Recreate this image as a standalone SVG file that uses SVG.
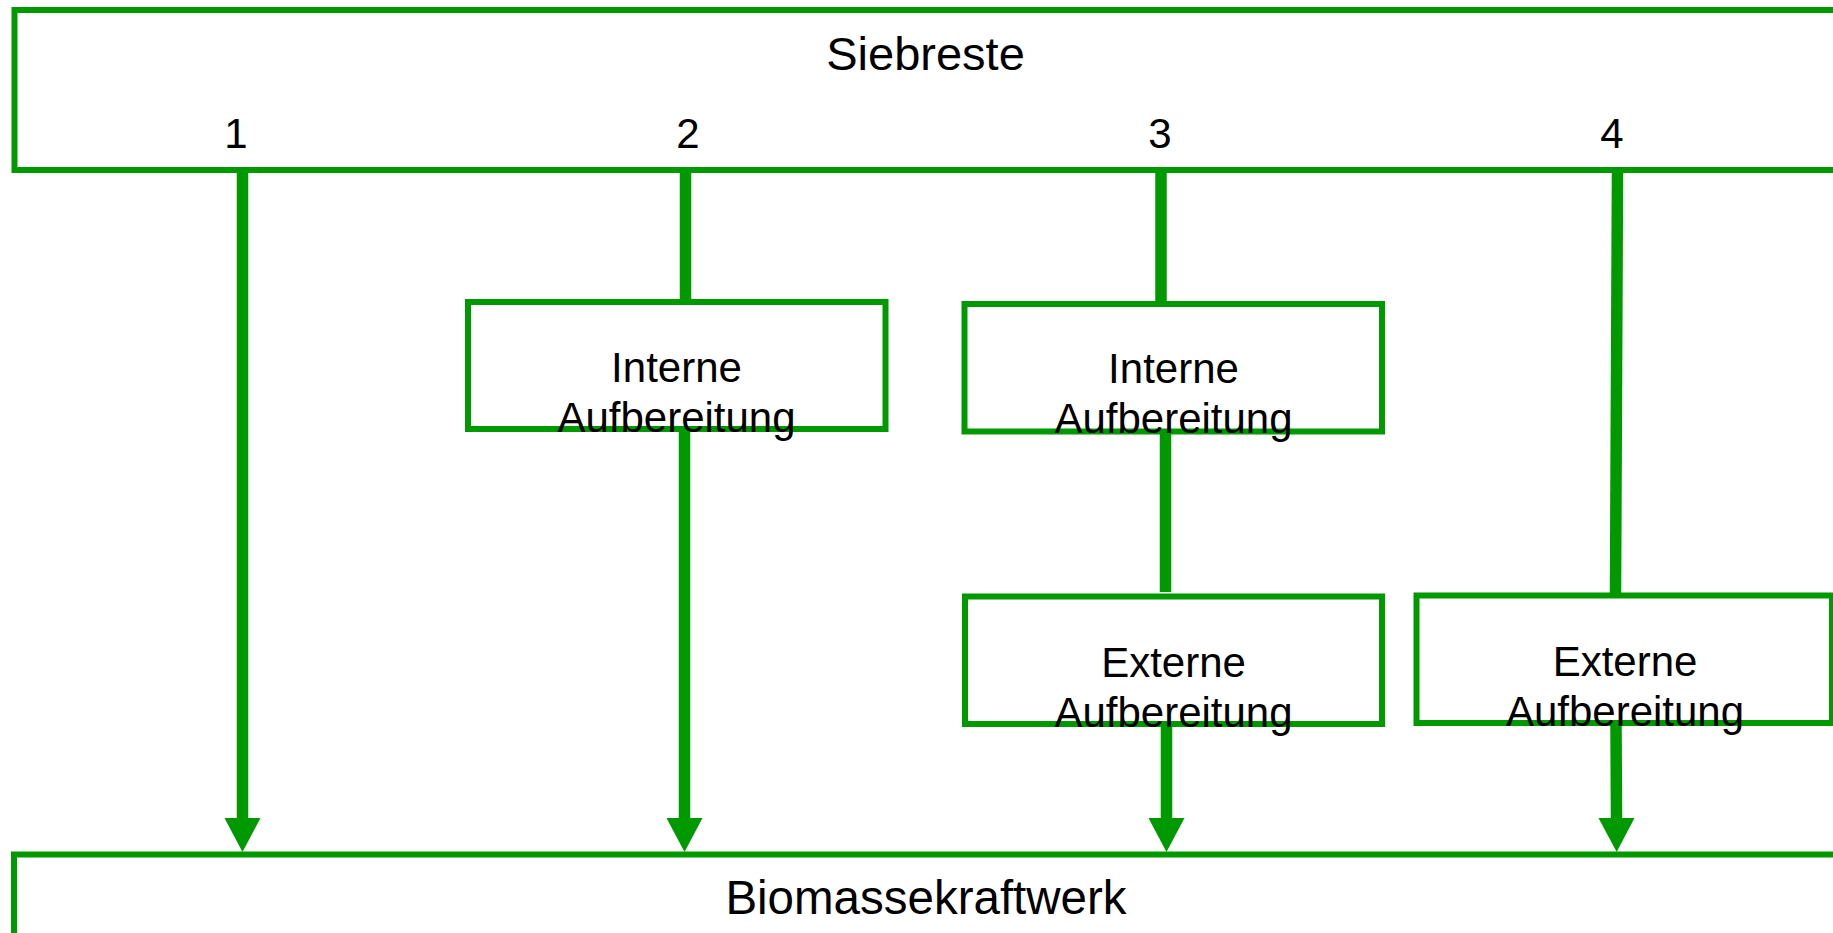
<svg xmlns="http://www.w3.org/2000/svg" width="1833" height="933" viewBox="0 0 1833 933">
<style>
.box{fill:none;stroke:#009900;stroke-width:6}
.conn{fill:none;stroke:#009900;stroke-width:11.5}
text{font-family:"Liberation Sans",Arial,sans-serif;fill:#000;text-anchor:middle}
.t{font-size:42px}
</style>
<defs>
<marker id="ah" markerUnits="userSpaceOnUse" markerWidth="36" markerHeight="36" viewBox="0 0 34 36" refX="0" refY="18" orient="auto">
<path d="M0,0 L34,18 L0,36 z" fill="#009900"/>
</marker>
</defs>
<g id="connectors">
<line class="conn" x1="242.5" y1="170" x2="242.5" y2="818" marker-end="url(#ah)"/>
<line class="conn" x1="685.5" y1="170" x2="685.5" y2="301"/>
<line class="conn" x1="684.5" y1="431" x2="684.5" y2="818" marker-end="url(#ah)"/>
<line class="conn" x1="1161" y1="170" x2="1161" y2="303"/>
<line class="conn" x1="1165.5" y1="433" x2="1165.5" y2="592"/>
<line class="conn" x1="1166.5" y1="727" x2="1166.5" y2="818" marker-end="url(#ah)"/>
<line class="conn" x1="1617.5" y1="170" x2="1615.5" y2="594"/>
<line class="conn" x1="1616" y1="724" x2="1616.5" y2="818" marker-end="url(#ah)"/>
</g>
<g id="siebreste">
<rect class="box" x="14.5" y="10" width="1840" height="160" fill="#fff"/>
<text x="925.5" y="69.5" style="font-size:47px">Siebreste</text>
<text class="t" x="236" y="148">1</text>
<text class="t" x="688" y="148">2</text>
<text class="t" x="1160" y="148">3</text>
<text class="t" x="1612" y="148">4</text>
</g>
<g id="intern2">
<rect class="box" x="468" y="302" width="417.5" height="127"/>
<text class="t" x="676.5" y="381.5">Interne</text>
<text class="t" x="676.5" y="431.5">Aufbereitung</text>
</g>
<g id="intern3">
<rect class="box" x="964.5" y="304" width="417.5" height="127.5"/>
<text class="t" x="1173.5" y="383">Interne</text>
<text class="t" x="1173.5" y="433">Aufbereitung</text>
</g>
<g id="extern3">
<rect class="box" x="965" y="596.5" width="417" height="127.5"/>
<text class="t" x="1173.5" y="676.5">Externe</text>
<text class="t" x="1173.5" y="726.5">Aufbereitung</text>
</g>
<g id="extern4">
<rect class="box" x="1416.5" y="595.5" width="415.5" height="127.5"/>
<text class="t" x="1625" y="675.5">Externe</text>
<text class="t" x="1625" y="725.5">Aufbereitung</text>
</g>
<g id="biomassekraftwerk">
<rect class="box" x="14" y="854.5" width="1840" height="120"/>
<text x="926" y="913.5" style="font-size:47.5px">Biomassekraftwerk</text>
</g>
</svg>
